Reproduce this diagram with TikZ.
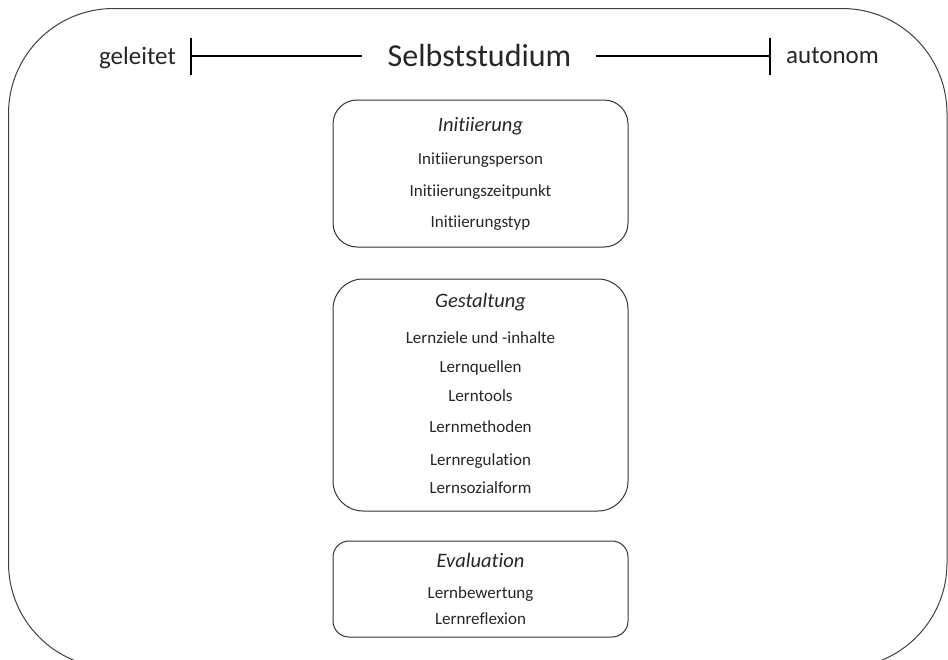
\documentclass[tikz,border=0pt]{standalone}
\usepackage{fontspec}
\setmainfont{Carlito}[RawFeature={-liga}]
\begin{document}
\begin{tikzpicture}[x=1pt,y=-1pt,
  txt/.style={text=black!85, inner sep=0pt, anchor=base},
  big/.style={txt, font=\fontsize{25}{29}\selectfont},
  huge/.style={txt, font=\fontsize{32}{36}\selectfont},
  head/.style={txt, font=\fontsize{20.5}{24}\selectfont\itshape},
  item/.style={txt, font=\fontsize{17}{20}\selectfont},
  panel/.style={draw=black!80, line width=1pt, rounded corners=24pt},
  bar/.style={draw=black, line width=2pt}]
\useasboundingbox (0,0) rectangle (948,659);
\begin{scope}
\clip (0,0) rectangle (948,659);
\draw[draw=black!75, line width=1pt, rounded corners=105pt] (8.5,8.5) rectangle (947,668);
\end{scope}
% scale
\node[big] (gel) at (137.5,64.5) {geleitet};
\node[huge] (sel) at (479.5,66) {Selbststudium};
\node[big] (aut) at (832.5,63.5) {autonom};
\coordinate (lb) at (191,56);
\coordinate (rb) at (770,56);
\coordinate (lbt) at (191,38); \coordinate (lbb) at (191,75);
\coordinate (rbt) at (770,38); \coordinate (rbb) at (770,75);
\draw[bar] (lbt) -- (lbb);
\draw[bar] (rbt) -- (rbb);
\draw[black, line width=1.6pt] (lb) -- (362,56);
\draw[black, line width=1.6pt] (596,56) -- (rb);
% boxes
\draw[panel] (333,100) rectangle (628,247);
\node[head] (h1) at (480.5,131) {Initiierung};
\node[item] (i11) at (480.5,164) {Initiierungsperson};
\node[item] (i12) at (480.5,196) {Initiierungszeitpunkt};
\node[item] (i13) at (480.5,227) {Initiierungstyp};
\draw[panel, rounded corners=30pt] (333,279) rectangle (628,511);
\node[head] (h2) at (480.5,307) {Gestaltung};
\node[item] (i21) at (480.5,343) {Lernziele und -inhalte};
\node[item] (i22) at (480.5,372) {Lernquellen};
\node[item] (i23) at (480.5,401) {Lerntools};
\node[item] (i24) at (480.5,432) {Lernmethoden};
\node[item] (i25) at (480.5,465) {Lernregulation};
\node[item] (i26) at (480.5,493) {Lernsozialform};
\draw[panel, rounded corners=16pt] (333,541) rectangle (628,637);
\node[head] (h3) at (480.5,567) {Evaluation};
\node[item] (i31) at (480.5,598) {Lernbewertung};
\node[item] (i32) at (480.5,624) {Lernreflexion};
\end{tikzpicture}
\end{document}
